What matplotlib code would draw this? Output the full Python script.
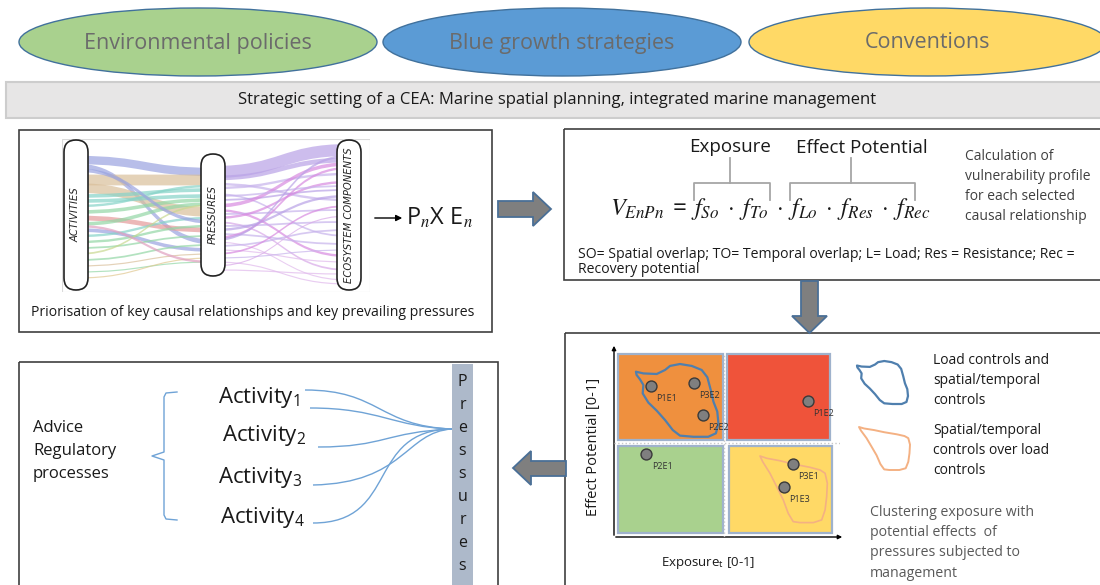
import matplotlib
matplotlib.use("Agg")
import matplotlib.pyplot as plt
from matplotlib.patches import Ellipse, Rectangle, FancyBboxPatch, Polygon, PathPatch
from matplotlib.path import Path

plt.rcParams['font.family'] = ['Open Sans', 'DejaVu Sans']
plt.rcParams['mathtext.fontset'] = 'custom'
plt.rcParams['mathtext.rm'] = 'Open Sans'
plt.rcParams['mathtext.it'] = 'STIXGeneral:italic'
plt.rcParams['mathtext.bf'] = 'Open Sans:bold'
plt.rcParams['mathtext.sf'] = 'Open Sans'

# ---------------- data ----------------
frameworks = ["Environmental policies", "Blue growth strategies", "Conventions"]
framework_colors = ["#a9d18e", "#5b9bd5", "#ffd966"]
setting = "Strategic setting of a CEA: Marine spatial planning, integrated marine management"

sankey_nodes = ["ACTIVITIES", "PRESSURES", "ECOSYSTEM COMPONENTS"]
# activities -> pressures : position at source, position at target, weight
ap_src = [21, 27, 41, 49, 57, 62, 67, 73, 79, 85, 91, 97, 103, 109, 115, 121, 127, 133, 139, 31, 87]
ap_dst = [33, 103, 41, 73, 51, 57, 47, 61, 91, 65, 111, 79, 87, 97, 66, 106, 115, 123, 119, 83, 123]
ap_w = [7, 4, 9, 8, 3, 3, 2, 3, 4, 3, 3, 2, 2, 1.5, 1.5, 1.5, 1, 1, 1, 3, 2]
ap_col = ['#9aa3e0', '#9aa3e0', '#d9bf9a', '#d9bf9a', '#86d3c8', '#86d3c8', '#86d3c8',
          '#93d7a6', '#e49a9a', '#93d7a6', '#9aa3e0', '#86d3c8', '#93d7a6', '#93d7a6',
          '#c8d890', '#93d7a6', '#d9bf9a', '#93d7a6', '#e0c890', '#9aa3e0', '#e0a0c0']
# pressures -> ecosystem components
pe_src = [33, 39, 45, 49, 55, 61, 67, 71, 75, 79, 83, 87, 91, 95, 99, 103, 107, 111, 115,
          119, 123, 127, 131, 57, 101]
pe_dst = [11, 21, 61, 35, 97, 51, 25, 117, 71, 43, 131, 83, 57, 105, 29, 141, 91, 123, 67,
          111, 145, 77, 135, 47, 17]
pe_w = [10, 4, 2, 2, 1.5, 1.5, 3, 2, 1.5, 2, 1.5, 1.5, 2, 1.5, 2, 1, 1.5, 1, 1.5, 1, 1, 1, 1,
        1.5, 2]
pe_col = ['#b9a2e6', '#b9a2e6', '#c7b3ec', '#c7b3ec', '#c7b3ec', '#b9a2e6', '#d88ae0',
          '#d88ae0', '#c7b3ec', '#d88ae0', '#d8a8e8', '#c7b3ec', '#b9a2e6', '#c7b3ec',
          '#d88ae0', '#e0b8ec', '#c7b3ec', '#e0b8ec', '#d88ae0', '#c7b3ec', '#e0b8ec',
          '#d8a8e8', '#e0b8ec', '#c7b3ec', '#b9a2e6']

formula = (r'$V_{EnPn}\;=\;f_{So}\;\cdot\;f_{To}\;\cdot\;f_{Lo}\;\cdot\;f_{Res}\;\cdot\;f_{Rec}$')
calc_lines = ["Calculation of", "vulnerability profile", "for each selected",
              "causal relationship"]
legend_note = ["SO= Spatial overlap; TO= Temporal overlap; L= Load; Res = Resistance; Rec =",
               "Recovery potential"]

# exposure / effect potential of each pressure-ecosystem pair
pair_names = ["P1E1", "P3E2", "P2E2", "P1E2", "P2E1", "P3E1", "P1E3"]
exposure = [0.164, 0.354, 0.394, 0.858, 0.142, 0.792, 0.752]
effect = [0.786, 0.802, 0.635, 0.708, 0.432, 0.380, 0.260]

# management clusters (outline in exposure / effect space)
load_ctrl_x = [0.097, 0.130, 0.189, 0.226, 0.248, 0.292, 0.344, 0.388, 0.413, 0.428, 0.440,
               0.457, 0.462, 0.451, 0.417, 0.351, 0.292, 0.260, 0.226, 0.189, 0.152, 0.127,
               0.130, 0.115, 0.100]
load_ctrl_y = [0.861, 0.852, 0.849, 0.870, 0.891, 0.901, 0.891, 0.870, 0.832, 0.766, 0.705,
               0.653, 0.592, 0.540, 0.522, 0.522, 0.528, 0.557, 0.609, 0.658, 0.700, 0.748,
               0.792, 0.821, 0.844]
spatial_ctrl_x = [0.646, 0.676, 0.735, 0.793, 0.867, 0.912, 0.934, 0.944, 0.941, 0.934, 0.919,
                  0.882, 0.823, 0.793, 0.771, 0.749, 0.720, 0.690, 0.658]
spatial_ctrl_y = [0.422, 0.410, 0.397, 0.380, 0.363, 0.349, 0.332, 0.280, 0.210, 0.141, 0.089,
                  0.075, 0.075, 0.080, 0.123, 0.193, 0.262, 0.332, 0.392]
cluster_labels = [["Load controls and", "spatial/temporal", "controls"],
                  ["Spatial/temporal", "controls over load", "controls"]]
cluster_note = ["Clustering exposure with", "potential effects  of",
                "pressures subjected to", "management"]

advice = ["Advice", "Regulatory", "processes"]
activities = [r"Activity$_1$", r"Activity$_2$", r"Activity$_3$", r"Activity$_4$"]
pressures_word = "Pressures"

# ---------------- figure ----------------
fig = plt.figure(figsize=(11, 5.85), dpi=100)
ax = fig.add_axes([0, 0, 1, 1])
ax.set_xlim(0, 1100)
ax.set_ylim(585, 0)
ax.axis('off')

dark = '#1a1a1a'
frame = '#3f3f3f'

# top ellipses
for cx, name, col in zip([198, 562, 928], frameworks, framework_colors):
    ax.add_patch(Ellipse((cx, 42), 358, 68, fc=col, ec='#41719c', lw=1))
    ax.text(cx, 43, name, ha='center', va='center', fontsize=15.5, color='#6b6b6b')

ax.add_patch(Rectangle((6, 82), 1100, 36, fc='#e7e6e6', ec='#cdcdcd', lw=1.5))
ax.text(557, 100, setting, ha='center', va='center', fontsize=12, color=dark)

# four panels
for x, y, w, h in [(19, 130, 473, 202), (564, 129, 545, 151),
                   (565, 333, 545, 260), (19, 362, 479, 230)]:
    ax.add_patch(Rectangle((x, y), w, h, fc='none', ec=frame, lw=1.2))

# block arrows
arrow_kw = dict(fc='#7f7f7f', ec='#4a6f96', lw=1.3, joinstyle='miter')
ax.add_patch(Polygon([(498, 201), (533, 201), (533, 192), (551, 209), (533, 226),
                      (533, 217), (498, 217)], **arrow_kw))
ax.add_patch(Polygon([(801, 281), (818, 281), (818, 316), (827, 316), (809.5, 333),
                      (792, 316), (801, 316)], **arrow_kw))
ax.add_patch(Polygon([(566, 461), (531, 461), (531, 451), (513, 468), (531, 485),
                      (531, 476), (566, 476)], **arrow_kw))

# ---- panel 1 : sankey ----
sk = fig.add_axes([62 / 1100, (585 - 292) / 585, 308 / 1100, 153 / 585])
sk.set_xlim(0, 308)
sk.set_ylim(153, 0)
sk.axis('off')
sk.add_patch(Rectangle((0, 0), 308, 153, fc='none', ec='#dadada', lw=0.8))
col_x = [14, 151, 287]


def band(a, x0, x1, y0, y1, w, color):
    xm = (x0 + x1) / 2
    verts = [(x0, y0 - w / 2), (xm, y0 - w / 2), (xm, y1 - w / 2), (x1, y1 - w / 2),
             (x1, y1 + w / 2), (xm, y1 + w / 2), (xm, y0 + w / 2), (x0, y0 + w / 2),
             (x0, y0 - w / 2)]
    codes = [Path.MOVETO, Path.CURVE4, Path.CURVE4, Path.CURVE4, Path.LINETO,
             Path.CURVE4, Path.CURVE4, Path.CURVE4, Path.CLOSEPOLY]
    a.add_patch(PathPatch(Path(verts, codes), fc=color, ec='none', alpha=0.7))


for s, d, w, c in zip(ap_src, ap_dst, ap_w, ap_col):
    band(sk, col_x[0], col_x[1], s, d, w * 1.2, c)
for s, d, w, c in zip(pe_src, pe_dst, pe_w, pe_col):
    band(sk, col_x[1], col_x[2], s, d, w * 1.2, c)

pill_span = [(1, 151), (15, 137), (1, 151)]
for cx, (y0, y1), name in zip(col_x, pill_span, sankey_nodes):
    sk.add_patch(FancyBboxPatch((cx - 12, y0), 24, y1 - y0,
                                boxstyle="round,pad=0,rounding_size=12",
                                fc='white', ec='#222222', lw=1.2))
    sk.text(cx, (y0 + y1) / 2, name, rotation=90, ha='center', va='center',
            fontsize=7.2, style='italic', color='#222222', family='DejaVu Sans')

ax.annotate('', xy=(405, 218), xytext=(372, 218),
            arrowprops=dict(arrowstyle='-|>', color='black', lw=1, mutation_scale=9))
ax.text(406, 219, r'P$_n$X E$_n$', ha='left', va='center', fontsize=17, color=dark)
ax.text(253, 313, "Priorisation of key causal relationships and key prevailing pressures",
        ha='center', va='center', fontsize=10.1, color=dark)

# ---- panel 2 : vulnerability formula ----
ax.text(730, 147, "Exposure", ha='center', va='center', fontsize=13.5, color=dark)
ax.text(862, 148, "Effect Potential", ha='center', va='center', fontsize=13.5, color=dark)
br = '#a6a6a6'
ax.plot([694, 694, 770, 770], [200, 183, 183, 200], color=br, lw=1.3)
ax.plot([730, 730], [183, 158], color=br, lw=1.3)
ax.plot([790, 790, 915, 915], [200, 183, 183, 200], color=br, lw=1.3)
ax.plot([851, 851], [183, 158], color=br, lw=1.3)
ax.text(610, 209, formula, ha='left', va='center', fontsize=17.5, color=dark)
for i, line in enumerate(calc_lines):
    ax.text(965, 157 + i * 19.8, line, ha='left', va='center', fontsize=10, color='#404040')
for i, line in enumerate(legend_note):
    ax.text(578, 255 + i * 14.5, line, ha='left', va='center', fontsize=10.1, color=dark)

# ---- panel 3 : exposure / effect matrix ----
q = fig.add_axes([614 / 1100, (585 - 537) / 585, 226 / 1100, 192 / 585])
q.set_xlim(0, 1)
q.set_ylim(0, 1)
q.axis('off')
quads = [((0.018, 0.505), '#ef903e'), ((0.500, 0.505), '#ef533a'),
         ((0.018, 0.021), '#a9d18e'), ((0.509, 0.021), '#ffd966')]
for (x0, y0), col in quads:
    q.add_patch(Rectangle((x0, y0), 0.455 if x0 > 0.1 else 0.464, 0.448 if y0 > 0.1 else 0.453,
                          fc=col, ec='#9fb2cc', lw=1.6))
q.plot([0, 1.0], [0.49, 0.49], ls=':', color='#c8c8c8', lw=1)
q.plot([0.487, 0.487], [0, 0.953], ls=':', color='#c8c8c8', lw=1)
q.add_patch(Polygon(list(zip(load_ctrl_x, load_ctrl_y)), closed=True, fc='none',
                    ec='#4f7fae', lw=1.6, joinstyle='round'))
q.add_patch(Polygon(list(zip(spatial_ctrl_x, spatial_ctrl_y)), closed=True, fc='none',
                    ec='#f4b183', lw=1.2, joinstyle='round'))
q.scatter(exposure, effect, s=62, c='#7f7f7f', edgecolors='#3a3a3a', linewidths=1, zorder=5)
for name, xv, yv in zip(pair_names, exposure, effect):
    q.annotate(name, (xv, yv), xytext=(4, -9), textcoords='offset points',
               fontsize=6.5, color='#333333', ha='left', va='center')

ax.annotate('', xy=(614, 343), xytext=(614, 538),
            arrowprops=dict(arrowstyle='-|>', color='black', lw=1, mutation_scale=6))
ax.annotate('', xy=(845, 537), xytext=(613, 537),
            arrowprops=dict(arrowstyle='-|>', color='black', lw=1, mutation_scale=6))
ax.text(594, 447, "Effect Potential [0-1]", rotation=90, ha='center', va='center',
        fontsize=10.5, color=dark)
ax.text(708, 563, r"Exposure$_\mathrm{t}$ [0-1]", ha='center', va='center',
        fontsize=9.5, color=dark)

# legend outlines, rescaled from the cluster shapes
for xs, ys, col, lw, (bx0, bx1, by0, by1) in [
        (load_ctrl_x, load_ctrl_y, '#4f7fae', 1.6, (857, 908, 361, 404)),
        (spatial_ctrl_x, spatial_ctrl_y, '#f4b183', 1.4, (859, 910, 427, 470))]:
    x_lo, x_hi, y_lo, y_hi = min(xs), max(xs), min(ys), max(ys)
    pts = [(bx0 + (a - x_lo) / (x_hi - x_lo) * (bx1 - bx0),
            by1 - (b - y_lo) / (y_hi - y_lo) * (by1 - by0)) for a, b in zip(xs, ys)]
    ax.add_patch(Polygon(pts, closed=True, fc='none', ec=col, lw=lw, joinstyle='round'))
for lines, y0 in zip(cluster_labels, [361, 430]):
    for i, line in enumerate(lines):
        ax.text(933, y0 + i * 20, line, ha='left', va='center', fontsize=10, color=dark)
for i, line in enumerate(cluster_note):
    ax.text(870, 512 + i * 20.5, line, ha='left', va='center', fontsize=10.2, color='#595959')

# ---- panel 4 : activities and pressures ----
for i, line in enumerate(advice):
    ax.text(33, 428 + i * 23, line, ha='left', va='center', fontsize=12, color=dark)
blue = '#6fa3d6'
ax.plot([177, 166, 164, 164, 152, 164, 164, 166, 177],
        [392, 393, 397, 452, 456, 460, 515, 519, 520], color=blue, lw=1)
for name, xa, ya in zip(activities, [218, 222, 218, 220], [397, 436, 477, 517]):
    ax.text(xa, ya, name, ha='left', va='center', fontsize=16, color=dark)

target = (452, 429)
curves = [((305, 390), (380, 390), (378, 426)),
          ((310, 408), (380, 408), (392, 427)),
          ((318, 447), (385, 447), (385, 432)),
          ((313, 485), (405, 483), (405, 432)),
          ((313, 523), (400, 523), (365, 430))]
for p0, c1, c2 in curves:
    ax.add_patch(PathPatch(Path([p0, c1, c2, target],
                                [Path.MOVETO, Path.CURVE4, Path.CURVE4, Path.CURVE4]),
                           fc='none', ec=blue, lw=1))

ax.add_patch(Rectangle((452, 364), 21, 230, fc='#adb9ca', ec='none'))
for i, ch in enumerate(pressures_word.lower().capitalize()):
    ax.text(462.5, 382 + i * 23, ch, ha='center', va='center', fontsize=11.5, color=dark)

fig.savefig("out.png", dpi=100)
